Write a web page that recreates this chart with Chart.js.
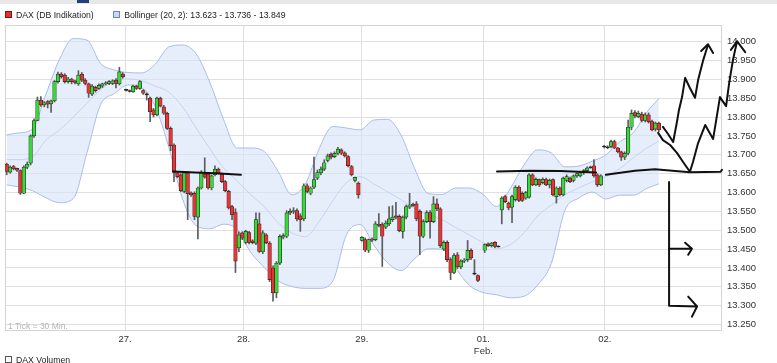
<!DOCTYPE html>
<html lang="de">
<head>
<meta charset="UTF-8">
<title>DAX (DB Indikation)</title>
<script src="https://cdn.jsdelivr.net/npm/chart.js@4.4.1/dist/chart.umd.min.js"></script>
<style>
    html, body { margin: 0; padding: 0; background: #fff; }
    body {
        width: 777px; height: 363px; overflow: hidden; position: relative;
        font-family: "Liberation Sans", Arial, sans-serif;
    }
    #chart { position: absolute; left: 0; top: 0; }
    .topbar { position: absolute; left: 0; top: 0; width: 777px; height: 4px; background: #e8e8e8; }
    .topbar span { position: absolute; left: 77px; top: 0; width: 12px; height: 3px; background: #22407a; }
    .legend { position: absolute; left: 5px; top: 10px; font-size: 8.7px; color: #222; white-space: nowrap; }
    .legend .item { display: inline-block; margin-right: 17px; }
    .legend i { display: inline-block; width: 5px; height: 5px; border: 1px solid #333; margin-right: 4px; vertical-align: 0; }
    .note { position: absolute; left: 8px; top: 321px; font-size: 8.5px; color: #b4b4b4; }
    .volume { position: absolute; left: 5px; top: 355px; font-size: 8.7px; color: #222; }
    .volume i { display: inline-block; width: 5px; height: 5px; border: 1px solid #555; margin-right: 4px; }
</style>
</head>
<body>
<canvas id="chart" width="777" height="363"></canvas>
<div class="topbar"><span></span></div>
<div class="legend">
    <span class="item"><i style="background:#e8302c;border-color:#7a1414"></i>DAX (DB Indikation)</span>
    <span class="item"><i style="background:#c8d7f4;border-color:#6a84bd"></i><span id="bbText"></span></span>
</div>
<div class="note">1 Tick = 30 Min.</div>
<div class="volume"><i></i>DAX Volumen</div>

<script>
// 30-minute candles, index 0 = first tick of the 26th
const open = [
    13675, 13654, 13669, 13664, 13658, 13598, 13667, 13678, 13750, 13791,
    13845, 13832, 13841, 13835, 13843, 13894, 13914, 13911, 13894, 13901,
    13896, 13888, 13914, 13898, 13888, 13861, 13879, 13876, 13882, 13888,
    13889, 13889, 13898, 13888, 13914, 13872, 13869, 13867, 13882, 13876,
    13870, 13860, 13850, 13819, 13806, 13850, 13827, 13810, 13770, 13726,
    13652, 13647, 13603, 13652, 13599, 13598, 13535, 13612, 13649, 13649,
    13612, 13647, 13662, 13649, 13629, 13603, 13563, 13547, 13453, 13493,
    13468, 13494, 13472, 13466, 13517, 13443, 13488, 13466, 13400, 13334,
    13413, 13482, 13484, 13546, 13550, 13552, 13538, 13530, 13618, 13598,
    13614, 13638, 13652, 13662, 13685, 13702, 13695, 13704, 13713, 13705,
    13695, 13669, 13632, 13625, 13473, 13475, 13447, 13476, 13475, 13516,
    13515, 13508, 13517, 13528, 13538, 13537, 13497, 13535, 13561, 13569,
    13570, 13550, 13484, 13523, 13547, 13523, 13570, 13557, 13450, 13468,
    13422, 13388, 13435, 13403, 13418, 13422, 13447, 13385, 13380, null,
    13447, 13464, 13459, 13468, 13457, 13554, 13589, 13572, 13561, 13581,
    13614, 13598, 13585, 13588, 13647, 13620, 13634, 13626, 13634, 13620,
    13634, 13589, 13612, 13594, 13632, 13638, 13632, 13644, 13644, 13652,
    13658, 13667, 13671, 13647, 13620, 13722, 13720, 13722, 13735, 13718,
    13708, 13694, 13704, 13773, 13812, 13801, 13808, 13791, 13806, 13788,
    13768, 13784
];
const high = [
    13678, 13671, 13672, 13665, 13660, 13671, 13681, 13753, 13795, 13853,
    13854, 13841, 13844, 13845, 13897, 13919, 13918, 13915, 13905, 13903,
    13898, 13923, 13918, 13902, 13890, 13886, 13882, 13888, 13890, 13894,
    13897, 13899, 13902, 13932, 13918, 13874, 13872, 13885, 13885, 13897,
    13873, 13864, 13853, 13823, 13853, 13853, 13831, 13813, 13774, 13729,
    13655, 13650, 13655, 13655, 13602, 13602, 13615, 13658, 13692, 13652,
    13647, 13671, 13665, 13652, 13632, 13606, 13566, 13557, 13496, 13496,
    13500, 13497, 13475, 13546, 13546, 13499, 13491, 13470, 13406, 13417,
    13488, 13491, 13552, 13557, 13560, 13557, 13544, 13623, 13623, 13615,
    13694, 13660, 13668, 13687, 13702, 13705, 13708, 13720, 13716, 13708,
    13698, 13672, 13641, 13628, 13483, 13480, 13477, 13480, 13523, 13544,
    13520, 13525, 13563, 13565, 13574, 13541, 13538, 13567, 13598, 13572,
    13576, 13554, 13528, 13552, 13552, 13589, 13583, 13560, 13472, 13472,
    13427, 13438, 13441, 13422, 13425, 13473, 13451, 13422, 13382, null,
    13464, 13467, 13468, 13470, 13459, 13589, 13593, 13575, 13593, 13618,
    13618, 13602, 13603, 13650, 13650, 13639, 13636, 13639, 13638, 13636,
    13636, 13615, 13615, 13641, 13647, 13641, 13647, 13652, 13655, 13661,
    13668, 13670, 13687, 13650, 13647, 13725, 13724, 13739, 13739, 13720,
    13710, 13708, 13792, 13819, 13817, 13816, 13813, 13811, 13811, 13792,
    13787, 13787
];
const low = [
    13647, 13651, 13660, 13656, 13595, 13597, 13663, 13673, 13746, 13790,
    13828, 13827, 13824, 13812, 13840, 13890, 13903, 13890, 13890, 13888,
    13888, 13884, 13894, 13885, 13852, 13857, 13866, 13873, 13878, 13885,
    13886, 13886, 13877, 13885, 13903, 13869, 13866, 13865, 13873, 13873,
    13860, 13845, 13788, 13800, 13803, 13827, 13807, 13767, 13711, 13629,
    13639, 13602, 13599, 13528, 13590, 13528, 13477, 13609, 13638, 13609,
    13607, 13644, 13649, 13626, 13602, 13556, 13528, 13388, 13443, 13475,
    13464, 13464, 13464, 13462, 13441, 13438, 13464, 13364, 13312, 13321,
    13409, 13477, 13480, 13541, 13544, 13525, 13497, 13525, 13599, 13594,
    13610, 13634, 13647, 13658, 13681, 13689, 13692, 13700, 13700, 13694,
    13668, 13644, 13628, 13585, 13471, 13443, 13441, 13470, 13472, 13509,
    13404, 13504, 13512, 13523, 13530, 13496, 13479, 13530, 13557, 13563,
    13525, 13435, 13480, 13520, 13479, 13520, 13552, 13454, 13446, 13417,
    13369, 13385, 13398, 13398, 13414, 13417, 13422, 13382, 13364, null,
    13441, 13457, 13456, 13454, 13455, 13517, 13573, 13554, 13520, 13577,
    13576, 13576, 13582, 13585, 13618, 13618, 13616, 13623, 13618, 13612,
    13591, 13572, 13591, 13591, 13628, 13626, 13628, 13640, 13641, 13648,
    13655, 13664, 13641, 13616, 13618, 13718, 13716, 13718, 13716, 13705,
    13685, 13687, 13700, 13766, 13798, 13798, 13787, 13787, 13784, 13763,
    13763, 13761
];
const close = [
    13656, 13667, 13663, 13659, 13598, 13667, 13675, 13750, 13791, 13845,
    13832, 13838, 13834, 13843, 13894, 13914, 13907, 13894, 13901, 13894,
    13892, 13911, 13898, 13889, 13863, 13882, 13870, 13884, 13888, 13891,
    13894, 13896, 13889, 13920, 13907, 13872, 13869, 13882, 13876, 13894,
    13863, 13860, 13814, 13806, 13850, 13829, 13810, 13770, 13724, 13653,
    13642, 13605, 13652, 13597, 13594, 13537, 13612, 13653, 13641, 13612,
    13644, 13662, 13652, 13629, 13605, 13559, 13541, 13418, 13488, 13479,
    13497, 13468, 13467, 13528, 13444, 13493, 13467, 13369, 13334, 13413,
    13484, 13486, 13546, 13550, 13552, 13530, 13528, 13618, 13603, 13612,
    13634, 13653, 13662, 13679, 13697, 13694, 13704, 13715, 13704, 13697,
    13671, 13647, 13640, 13594, 13481, 13447, 13475, 13474, 13517, 13513,
    13484, 13519, 13530, 13535, 13535, 13499, 13535, 13563, 13567, 13566,
    13530, 13484, 13523, 13547, 13523, 13570, 13557, 13459, 13468, 13422,
    13388, 13433, 13403, 13418, 13421, 13447, 13427, 13385, 13367, null,
    13462, 13459, 13466, 13457, 13457, 13585, 13576, 13559, 13589, 13614,
    13579, 13579, 13600, 13647, 13620, 13635, 13620, 13635, 13620, 13632,
    13594, 13612, 13594, 13638, 13642, 13629, 13644, 13650, 13652, 13658,
    13665, 13667, 13644, 13620, 13644, 13722, 13720, 13735, 13718, 13708,
    13694, 13704, 13773, 13810, 13803, 13810, 13791, 13806, 13788, 13766,
    13784, 13766
];

const bandX = [0.5, 4, 8, 12, 16, 20, 24, 28, 32, 36, 40, 44, 48, 52, 56, 60, 64, 68, 72, 76,
    80, 84, 88, 92, 96, 100, 104, 108, 112, 116, 120, 124, 128, 132, 136, 140, 144, 148, 152, 156,
    160, 164, 168, 172, 176, 180, 184, 188, 191.5];
const bandUpper = [13753, 13758, 13768, 13861, 13954, 14008, 14004, 13942, 13925, 13918,
    13917, 13940, 13986, 13991, 13967, 13892, 13794, 13718, 13718, 13708,
    13656, 13594, 13623, 13716, 13775, 13771, 13766, 13792, 13794, 13752,
    13663, 13597, 13595, 13612, 13612, 13595, 13563, 13611, 13673, 13713,
    13705, 13668, 13670, 13683, 13700, 13734, 13758, 13813, 13849];
const bandMiddle = [13687, 13687, 13694, 13739, 13766, 13800, 13837, 13872, 13896, 13901,
    13896, 13882, 13866, 13827, 13771, 13716, 13665, 13631, 13594, 13562,
    13520, 13493, 13483, 13523, 13578, 13626, 13642, 13623, 13602, 13581,
    13557, 13541, 13528, 13507, 13488, 13467, 13451, 13462, 13493, 13538,
    13567, 13594, 13612, 13628, 13642, 13663, 13692, 13718, 13736];
const bandLower = [13620, 13615, 13605, 13586, 13573, 13584, 13705, 13833, 13862, 13885,
    13878, 13828, 13719, 13583, 13512, 13504, 13516, 13502, 13441, 13401,
    13366, 13351, 13346, 13346, 13365, 13488, 13515, 13461, 13414, 13393,
    13425, 13451, 13450, 13399, 13354, 13335, 13329, 13321, 13325, 13355,
    13412, 13553, 13585, 13601, 13583, 13593, 13593, 13611, 13623];

// axes
const dayTicks = [35.15, 69.85, 104.5, 140.1, 175.7];
const dayLabels = ['27.', '28.', '29.', ['01.', 'Feb.'], '02.'];
const yTicks = [13250, 13300, 13350, 13400, 13450, 13500, 13550, 13600,
    13650, 13700, 13750, 13800, 13850, 13900, 13950, 14000];

// hand drawn marks on the chart (tick position, index points)
const drawA_x = [49.2, 55.7, 61.5, 69.1];
const drawA_y = [13656, 13653, 13651, 13647];
const drawB_x = [144.1, 153.8, 162.6, 173.1];
const drawB_y = [13656, 13658, 13657, 13653];
const drawC_x = [176.0, 184.5, 190.4, 200.6, 209.6, 210];
const drawC_y = [13647, 13658, 13662, 13654, 13655, 13660];
const drawD_x = [191.3, 192.7, 194.8, 196.8, 198.6, 200.6, 201.5, 203.0, 205.1, 205.9,
    207.4, 208.3, 209.4, 211.2, 212.1, 213.2, 214.4, 212.6, 214.4, 216.8];
const drawD_y = [13758, 13739, 13726, 13705, 13681, 13655, 13681, 13731, 13779, 13766,
    13742, 13792, 13853, 13829, 13890, 13951, 14001, 13978, 14001, 13972];
const drawE_x = [192.7, 194.2, 195.7, 196.8, 197.4, 198.3, 199.2, 200.6, 202.1, 203.0,
    204.5, 205.6, 205.9, 203.9, 205.9, 207.4];
const drawE_y = [13774, 13755, 13734, 13787, 13819, 13853, 13904, 13877, 13851, 13898,
    13951, 13983, 13993, 13975, 13993, 13970];
const drawF_x = [194.5, 194.5, 202.7, 200.1, 202.7, 201.2];
const drawF_y = [13628, 13300, 13298, 13324, 13298, 13271];
const drawG_x = [194.5, 201.2, 199.2, 201.2, 200.1];
const drawG_y = [13451, 13451, 13467, 13451, 13435];

const RED = '#ee3232';
const GREEN = '#36dc36';

const fmt = v => {
    const s = String(Math.round(v));
    return s.slice(0, -3) + '.' + s.slice(-3);
};

document.getElementById('bbText').textContent =
    'Bollinger (20, 2): ' + fmt(bandLower[bandLower.length - 1]) + ' - ' +
    fmt(bandMiddle[bandMiddle.length - 1]) + ' - ' + fmt(bandUpper[bandUpper.length - 1]);

// candles as floating bars: thin wick + body
const wickData = [], bodyData = [], bodyColors = [];
open.forEach((o, i) => {
    if (o === null) return;
    const c = close[i], x = i + 0.5;
    wickData.push({ x: x, y: [low[i], high[i]] });
    let lo = Math.min(o, c), hi = Math.max(o, c);
    if (hi - lo < 2.6) {
        const m = (hi + lo) / 2;
        lo = m - 1.3;
        hi = m + 1.3;
    }
    bodyData.push({ x: x, y: [lo, hi] });
    bodyColors.push(c > o ? GREEN : (c < o ? RED : '#111'));
});

const pts = (xs, ys) => xs.map((x, i) => ({ x: x, y: ys[i] }));

function drawing(xs, ys) {
    return {
        type: 'line',
        data: pts(xs, ys),
        borderColor: '#111',
        borderWidth: 2,
        borderJoinStyle: 'round',
        borderCapStyle: 'round',
        pointRadius: 0,
        tension: 0,
        fill: false,
        clip: false,
        order: 1
    };
}

// plot frame
const framePlugin = {
    id: 'frame',
    beforeDatasetsDraw(chart) {
        const { ctx, chartArea: a } = chart;
        ctx.save();
        ctx.strokeStyle = '#d4d4d4';
        ctx.lineWidth = 1;
        ctx.strokeRect(a.left + 0.5, a.top + 0.5, a.right - a.left - 1, a.bottom - a.top - 1);
        ctx.restore();
    }
};

Chart.defaults.font.family = '"Liberation Sans", Arial, sans-serif';

new Chart(document.getElementById('chart'), {
    type: 'bar',
    data: {
        datasets: [
            {
                type: 'line',
                data: pts(bandX, bandUpper),
                borderColor: '#a9bde6',
                borderWidth: 1,
                backgroundColor: 'rgba(214, 227, 250, 0.6)',
                fill: '+1',
                pointRadius: 0,
                cubicInterpolationMode: 'monotone',
                order: 10
            },
            {
                type: 'line',
                data: pts(bandX, bandLower),
                borderColor: '#a9bde6',
                borderWidth: 1,
                fill: false,
                pointRadius: 0,
                cubicInterpolationMode: 'monotone',
                order: 10
            },
            {
                type: 'line',
                data: pts(bandX, bandMiddle),
                borderColor: '#c3d3f1',
                borderWidth: 1,
                fill: false,
                pointRadius: 0,
                cubicInterpolationMode: 'monotone',
                order: 9
            },
            {
                data: wickData,
                backgroundColor: '#5c5c5c',
                barThickness: 1,
                grouped: false,
                order: 5
            },
            {
                data: bodyData,
                backgroundColor: bodyColors,
                borderColor: '#2a2a2a',
                borderWidth: 0.7,
                borderSkipped: false,
                barThickness: 3.6,
                grouped: false,
                order: 4
            },
            drawing(drawA_x, drawA_y),
            drawing(drawB_x, drawB_y),
            drawing(drawC_x, drawC_y),
            drawing(drawD_x, drawD_y),
            drawing(drawE_x, drawE_y),
            drawing(drawF_x, drawF_y),
            drawing(drawG_x, drawG_y)
        ]
    },
    options: {
        responsive: false,
        animation: false,
        devicePixelRatio: 1,
        layout: { padding: { left: 5, top: 25, right: 0, bottom: 0 } },
        plugins: {
            legend: { display: false },
            tooltip: { enabled: false },
            filler: { drawTime: 'beforeDatasetsDraw' }
        },
        scales: {
            x: {
                type: 'linear',
                min: 0,
                max: 210,
                offset: false,
                grid: { color: '#e0e0e0', offset: false, drawTicks: false },
                border: { display: false },
                afterBuildTicks: axis => { axis.ticks = dayTicks.map(v => ({ value: v })); },
                afterFit: axis => { axis.height = 32; },
                ticks: {
                    autoSkip: false,
                    maxRotation: 0,
                    padding: 3,
                    color: '#333',
                    font: { size: 9.5 },
                    callback: (v, i) => dayLabels[i]
                }
            },
            y: {
                position: 'right',
                min: 13233,
                max: 14044,
                grid: { color: '#e0e0e0', drawTicks: false },
                border: { display: false },
                afterBuildTicks: axis => { axis.ticks = yTicks.map(v => ({ value: v })); },
                afterFit: axis => { axis.width = 55; },
                ticks: {
                    padding: 5,
                    color: '#333',
                    font: { size: 9.5 },
                    callback: v => fmt(v)
                }
            }
        }
    },
    plugins: [framePlugin]
});
</script>
</body>
</html>
